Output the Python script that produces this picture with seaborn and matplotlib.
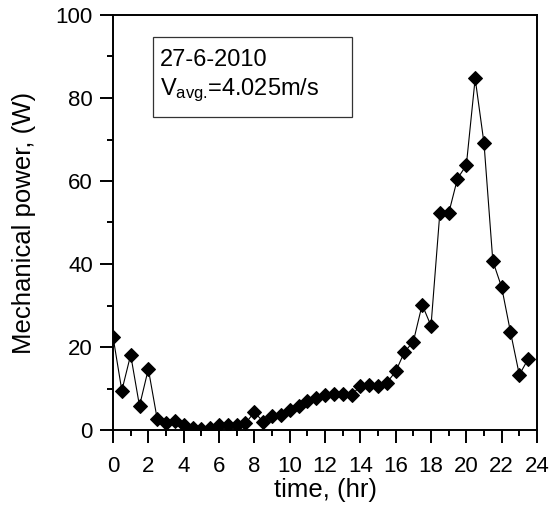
import matplotlib
matplotlib.use("Agg")
import matplotlib.pyplot as plt
from matplotlib.patches import Rectangle
from matplotlib.ticker import MultipleLocator
import seaborn as sns
import pandas as pd

# ---- data ----
time_hr = [0, 0.5, 1, 1.5, 2, 2.5, 3, 3.5, 4, 4.5, 5, 5.5, 6, 6.5, 7, 7.5,
           8, 8.5, 9, 9.5, 10, 10.5, 11, 11.5, 12, 12.5, 13, 13.5, 14, 14.5,
           15, 15.5, 16, 16.5, 17, 17.5, 18, 18.5, 19, 19.5, 20, 20.5, 21,
           21.5, 22, 22.5, 23, 23.5]
power_w = [22.5, 9.5, 18.1, 5.8, 14.7, 2.7, 1.6, 2.2, 1.1, 0.6, 0.2, 0.6,
           1.1, 1.3, 1.3, 1.6, 4.3, 2.0, 3.4, 3.6, 4.7, 5.8, 6.9, 7.8, 8.5,
           8.7, 8.7, 8.5, 10.5, 10.9, 10.5, 11.4, 14.1, 18.8, 21.3, 30.2,
           25.1, 52.3, 52.2, 60.6, 63.8, 84.7, 69.1, 40.7, 34.4, 23.6, 13.3,
           17.1]
x_ticks = [0, 2, 4, 6, 8, 10, 12, 14, 16, 18, 20, 22, 24]
y_ticks = [0, 20, 40, 60, 80, 100]
date_text = "27-6-2010"
vavg_text = r"V$_{avg.}\!$=4.025m/s"
x_label = "time, (hr)"
y_label = "Mechanical power, (W)"

df = pd.DataFrame({"time": time_hr, "power": power_w})

sns.set_theme(style="ticks")
plt.rcParams["font.family"] = ["Liberation Sans", "DejaVu Sans"]
plt.rcParams["mathtext.default"] = "regular"

fig = plt.figure(figsize=(5.54, 5.09), dpi=100)
ax = fig.add_axes([113 / 554, 1 - 430 / 509, (537 - 113) / 554, (430 - 15) / 509])

sns.lineplot(data=df, x="time", y="power", ax=ax, color="black",
             linewidth=0.8, marker="D", markersize=7.4,
             markeredgecolor="black", markerfacecolor="black")

ax.set_xlim(0, 24)
ax.set_ylim(0, 100)
ax.set_xticks(x_ticks)
ax.set_yticks(y_ticks)
ax.xaxis.set_minor_locator(MultipleLocator(1))
ax.yaxis.set_minor_locator(MultipleLocator(10))
ax.tick_params(which="major", direction="out", length=9.5, width=1.4,
               labelsize=16, pad=5, colors="black")
ax.tick_params(axis="x", which="major", pad=9)
ax.tick_params(which="minor", direction="out", length=4.3, width=1.4,
               colors="black")
ax.tick_params(top=False, right=False, which="both")
for s in ax.spines.values():
    s.set_visible(True)
    s.set_linewidth(1.4)
    s.set_color("black")

ax.set_xlabel(x_label, fontsize=18.5, labelpad=1, color="black")
ax.set_ylabel(y_label, fontsize=18.5, labelpad=14, color="black")

# annotation box
ax.add_patch(Rectangle((2.26, 75.4), 13.5 - 2.26, 94.7 - 75.4, fill=False,
                       edgecolor="#333333", linewidth=0.9, zorder=5))
ax.text(2.65, 87.6, date_text, fontsize=17, color="black", ha="left",
        va="baseline", zorder=6)
ax.text(2.65, 80.7, vavg_text, fontsize=17, color="black", ha="left",
        va="baseline", zorder=6)

fig.savefig("out.png", dpi=100)
